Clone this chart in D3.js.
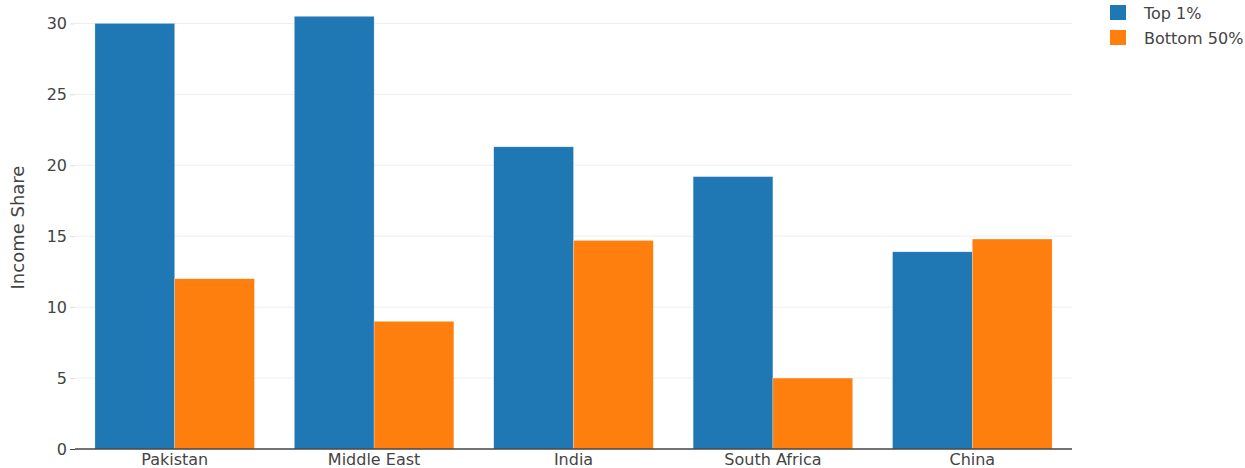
<!DOCTYPE html>
<html><head><meta charset="utf-8">
<script src="https://cdn.jsdelivr.net/npm/d3@7"></script>
<style>body{margin:0;background:#fff}svg{display:block}text{font-family:"DejaVu Sans",Verdana,sans-serif;fill:#444}</style>
</head><body>
<script>
const categories = ["Pakistan","Middle East","India","South Africa","China"];
const seriesNames = ["Top 1%","Bottom 50%"];
const top1 = [30.0, 30.5, 21.3, 19.2, 13.9];
const bottom50 = [12.0, 9.0, 14.7, 5.0, 14.8];
const yTicks = [0,5,10,15,20,25,30];
const colors = ["#1f77b4","#ff7f0e"];

const W=1245,H=468;
const m={l:75,r:173,t:0,b:19};
const svg=d3.select("body").append("svg").attr("width",W).attr("height",H);
const x=d3.scaleBand().domain(categories).range([m.l,W-m.r]).paddingInner(0.2).paddingOuter(0.1);
const y=d3.scaleLinear().domain([0,31.65]).range([H-m.b,m.t]);
const x1=d3.scaleBand().domain(seriesNames).range([0,x.bandwidth()]);

// gridlines
svg.append("g").selectAll("line").data(yTicks.filter(d=>d>0)).join("line")
 .attr("x1",m.l).attr("x2",W-m.r).attr("y1",d=>y(d)).attr("y2",d=>y(d))
 .attr("stroke","#eee").attr("stroke-width",1);

const yAxis=svg.append("g").attr("transform",`translate(${m.l},0)`)
 .call(d3.axisLeft(y).tickValues(yTicks).tickSize(5).tickPadding(3));
yAxis.select(".domain").remove();
yAxis.selectAll(".tick line").attr("stroke",d=>d===0?"#444":"#ddd");
yAxis.selectAll(".tick text").attr("font-size",16).style("fill","#444");

const data=[top1,bottom50];
seriesNames.forEach((s,i)=>{
  svg.append("g").selectAll("rect").data(categories).join("rect")
   .attr("x",c=>x(c)+x1(s)).attr("width",x1.bandwidth())
   .attr("y",(c,j)=>y(data[i][j])).attr("height",(c,j)=>y(0)-y(data[i][j]))
   .attr("fill",colors[i]).attr("stroke","rgba(255,255,255,0.5)").attr("stroke-width",0.5);
});

const xAxis=svg.append("g").attr("transform",`translate(0,${y(0)})`)
 .call(d3.axisBottom(x).tickSize(0).tickPadding(5));
xAxis.select(".domain").attr("stroke","#444").attr("stroke-width",1.5).attr("d",`M${m.l},0H${W-m.r}`);
xAxis.selectAll(".tick text").attr("font-size",16).style("fill","#444");

svg.append("text").attr("transform",`translate(24,${(y(0)+m.t)/2+3}) rotate(-90)`)
 .attr("text-anchor","middle").attr("font-size",18).text("Income Share");

const lg=svg.append("g").attr("transform","translate(1110,5)");
seriesNames.forEach((s,i)=>{
  lg.append("rect").attr("x",0).attr("y",i*25).attr("width",16).attr("height",15).attr("fill",colors[i]);
  lg.append("text").attr("x",34).attr("y",i*25+14).attr("font-size",16).text(s);
});
</script>
</body></html>
